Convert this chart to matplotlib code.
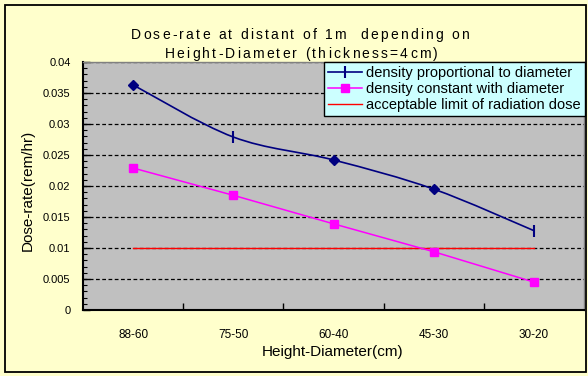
"""
Dose-rate at 1 m for several height-diameter combinations
"""

import numpy as np
import matplotlib
matplotlib.use('Agg')
import matplotlib.pyplot as plt
from matplotlib.path import Path
from matplotlib.patches import PathPatch, Rectangle
from matplotlib.lines import Line2D
from matplotlib.font_manager import FontProperties

plt.rcParams['font.family'] = ['Liberation Sans', 'DejaVu Sans']

# data
categories = ['88-60', '75-50', '60-40', '45-30', '30-20']
dose_prop = [0.0363, 0.0279, 0.0242, 0.0195, 0.0128]   # density proportional to diameter
dose_const = [0.0229, 0.0185, 0.0139, 0.0094, 0.0045]  # density constant with diameter
dose_limit = [0.01, 0.01, 0.01, 0.01, 0.01]            # acceptable limit

x = np.arange(len(categories))


def smooth_path(xs, ys):
    # catmull-rom style bezier through the points (like a spreadsheet smoothed line)
    pts = np.column_stack([xs, ys]).astype(float)
    n = len(pts)
    verts = [pts[0]]
    codes = [Path.MOVETO]
    for i in range(n - 1):
        p0 = pts[max(i - 1, 0)]
        p1 = pts[i]
        p2 = pts[i + 1]
        p3 = pts[min(i + 2, n - 1)]
        c1 = p1 + (p2 - p0) / 6.0
        c2 = p2 - (p3 - p1) / 6.0
        verts += [c1, c2, p2]
        codes += [Path.CURVE4] * 3
    return Path(verts, codes)


def spaced_text(fig, xc, ybase, s, size, gap):
    # letter-spaced text centred on xc (pixels), baseline at ybase (pixels from top)
    r = fig.canvas.get_renderer()
    prop = FontProperties(family='Liberation Sans', size=size)
    ref = r.get_text_width_height_descent('aa', prop, ismath=False)[0]
    widths = [r.get_text_width_height_descent('a' + c + 'a', prop, ismath=False)[0] - ref
              for c in s]
    total = sum(widths) + gap * (len(s) - 1)
    xp = xc - total / 2
    for c, w in zip(s, widths):
        if c != ' ':
            fig.text(xp / W, 1 - ybase / H, c, fontproperties=prop, ha='left', va='baseline')
        xp += w + gap


W, H = 588, 376
fig = plt.figure(figsize=(W / 100, H / 100), dpi=100)
fig.patch.set_facecolor('#FFFFCC')

# chart frame
fig.patches.append(Rectangle((5 / W, 4 / H), 581 / W, 367 / H, transform=fig.transFigure,
                             facecolor='none', edgecolor='black', lw=1.3))

ax = fig.add_axes([83 / W, 66 / H, 501 / W, 248 / H])
ax.set_facecolor('#C0C0C0')

# gridlines
for yv in np.arange(0.005, 0.04, 0.005):
    ax.axhline(yv, color='black', lw=0.9, ls=(0, (3, 2)), zorder=1)

# limit line
ax.plot(x, dose_limit, color='#FF0000', lw=1.0, zorder=3)

# constant density series
ax.plot(x, dose_const, color='#FF00FF', lw=1.1, marker='s', ms=6, zorder=4)

# proportional density series, smoothed
ax.add_patch(PathPatch(smooth_path(x, dose_prop), facecolor='none', edgecolor='#000080',
                       lw=1.2, zorder=5))
diam_idx = [0, 2, 3]
tick_idx = [1, 4]
ax.plot(x[diam_idx], [dose_prop[i] for i in diam_idx], ls='none', marker='D', ms=5,
        color='#000080', zorder=6)
ax.plot(x[tick_idx], [dose_prop[i] for i in tick_idx], ls='none', marker='|', ms=8,
        mew=1.5, color='#000080', zorder=6)

ax.set_xlim(-0.5, 4.5)
ax.set_ylim(0, 0.04)

# category boundary ticks and labels
ax.set_xticks(np.arange(0.5, 4.5, 1.0))
ax.set_xticklabels([])
ax.set_xticks(x, minor=True)
ax.set_xticklabels(categories, minor=True, fontsize=8.5)
ax.tick_params(axis='x', which='major', direction='in', length=5, width=1)
ax.tick_params(axis='x', which='minor', length=0, pad=14)

yt = np.arange(0, 0.0401, 0.005)
ax.set_yticks(yt)
ax.set_yticklabels(['0'] + ['%g' % v for v in yt[1:]], fontsize=8)
ax.set_yticks(np.arange(0, 0.0401, 0.001), minor=True)
ax.tick_params(axis='y', which='major', direction='in', length=5, width=1, pad=9)
ax.tick_params(axis='y', which='minor', direction='in', length=3, width=0.8)

for side in ['left', 'bottom']:
    ax.spines[side].set_color('black')
    ax.spines[side].set_linewidth(1.5)
for side in ['top', 'right']:
    ax.spines[side].set_color('#808080')
    ax.spines[side].set_linewidth(1.0)

# titles and axis labels
spaced_text(fig, 300, 39, 'Dose-rate at distant of 1m  depending on', 10, 2.2)
spaced_text(fig, 301, 58, 'Height-Diameter (thickness=4cm)', 10, 2.2)
fig.text(28 / W, 1 - 190 / H, 'Dose-rate(rem/hr)', rotation=90,
         ha='center', va='center', fontsize=11)
fig.text(333 / W, 1 - 352 / H, 'Height-Diameter(cm)',
         ha='center', va='center', fontsize=11)

# legend
handles = [
    Line2D([], [], color='#000080', lw=1.2, marker='|', ms=8, mew=1.5),
    Line2D([], [], color='#FF00FF', lw=1.1, marker='s', ms=6),
    Line2D([], [], color='#FF0000', lw=1.0),
]
labels = ['density proportional to diameter', 'density constant with diameter',
          'acceptable limit of radiation dose']
leg = fig.legend(handles, labels, loc='upper right', bbox_to_anchor=(585 / W, 1 - 62 / H),
                 fontsize=10.5, frameon=True, fancybox=False, facecolor='#CCFFFF',
                 edgecolor='black', framealpha=1, handlelength=2.3, handletextpad=0.3,
                 labelspacing=0.12, borderpad=0.3, borderaxespad=0)
leg.get_frame().set_linewidth(1.0)
leg.set_zorder(10)

fig.savefig('out.png', dpi=100, facecolor=fig.get_facecolor())
